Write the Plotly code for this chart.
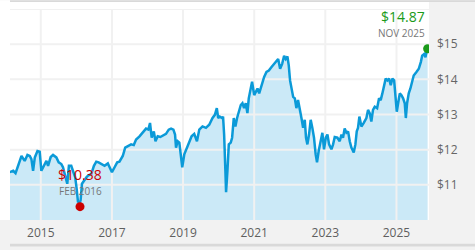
import plotly.graph_objects as go

dates = [
"2014-02-17","2014-03-24","2014-04-17","2014-05-14","2014-06-17","2014-07-20","2014-08-17","2014-09-10","2014-09-27","2014-10-14","2014-11-01","2014-11-28","2014-12-21",
"2015-01-07","2015-02-04","2015-02-28","2015-03-17","2015-04-13","2015-05-07","2015-06-10","2015-07-04","2015-07-31","2015-08-17","2015-09-10","2015-09-30","2015-10-17","2015-11-10","2015-11-27","2015-12-21",
"2016-01-04","2016-01-18","2016-02-04","2016-02-14","2016-02-28","2016-03-19","2016-04-12","2016-04-29","2016-06-03","2016-06-30","2016-07-24","2016-08-17","2016-09-13","2016-10-17","2016-11-20","2016-12-07",
"2017-01-01","2017-01-28","2017-02-24","2017-03-19","2017-04-22","2017-05-17","2017-06-13","2017-07-17","2017-08-13","2017-09-06","2017-10-11","2017-11-13","2017-12-17",
"2018-01-10","2018-01-27","2018-02-13","2018-03-07","2018-03-24","2018-04-16","2018-05-13","2018-06-07","2018-07-10","2018-08-07","2018-08-31","2018-09-24","2018-10-11","2018-10-21","2018-11-07","2018-11-24","2018-12-11","2018-12-24",
"2019-01-14","2019-02-10","2019-03-06","2019-03-30","2019-04-26","2019-05-24","2019-06-17","2019-07-20","2019-08-24","2019-09-27","2019-10-31","2019-11-24","2019-12-14","2019-12-28",
"2020-01-13","2020-02-06","2020-02-16","2020-02-27","2020-03-11","2020-03-18","2020-04-01","2020-04-15","2020-05-05","2020-05-19","2020-06-05","2020-06-22","2020-07-09","2020-07-26","2020-08-16","2020-09-02","2020-09-19","2020-10-06","2020-10-23","2020-11-06","2020-11-23","2020-12-10",
"2021-01-01","2021-01-18","2021-02-04","2021-02-21","2021-03-17","2021-04-13","2021-05-07","2021-05-31","2021-06-28","2021-07-25","2021-08-18","2021-09-04","2021-09-24","2021-10-15","2021-11-04","2021-11-21","2021-12-08","2021-12-22",
"2022-01-04","2022-01-19","2022-02-05","2022-02-22","2022-03-10","2022-03-27","2022-04-14","2022-05-01","2022-05-18","2022-06-04","2022-06-17","2022-07-01","2022-07-18","2022-08-04","2022-08-21","2022-09-07","2022-09-24","2022-10-08","2022-10-25","2022-11-14","2022-12-02","2022-12-19",
"2023-01-06","2023-01-23","2023-02-09","2023-03-05","2023-03-22","2023-04-08","2023-05-05","2023-05-29","2023-06-16","2023-07-02","2023-07-19","2023-08-06","2023-08-23","2023-09-09","2023-09-26","2023-10-20","2023-11-06","2023-11-20","2023-12-03","2023-12-17",
"2024-01-07","2024-01-31","2024-02-27","2024-03-15","2024-04-01","2024-04-18","2024-05-05","2024-05-23","2024-06-16","2024-07-06","2024-07-23","2024-08-09","2024-08-26","2024-09-12","2024-09-30","2024-10-17","2024-11-03","2024-11-20","2024-12-08","2024-12-21",
"2025-01-04","2025-01-18","2025-02-04","2025-02-21","2025-03-10","2025-03-27","2025-04-07","2025-04-20","2025-05-07","2025-05-24","2025-06-10","2025-06-27","2025-07-25","2025-08-18","2025-09-08","2025-09-22","2025-10-12","2025-10-26","2025-11-08","2025-11-17",
]

prices = [
11.36,11.40,11.33,11.54,11.82,11.68,11.85,11.82,11.73,11.40,11.78,11.96,11.94,
11.40,11.54,11.68,11.54,11.79,11.85,11.78,11.64,11.59,11.50,11.21,11.03,11.54,11.54,11.40,11.21,
10.90,10.52,10.48,10.56,11.03,11.12,11.21,11.26,11.31,11.54,11.66,11.64,11.59,11.54,11.61,11.50,
11.36,11.50,11.64,11.66,11.82,12.06,12.10,12.15,12.13,12.29,12.38,12.48,12.60,
12.57,12.76,12.34,12.52,12.24,12.38,12.36,12.41,12.45,12.57,12.60,12.57,12.43,12.06,12.24,12.20,11.78,11.50,
11.87,12.06,12.24,12.38,12.45,12.24,12.57,12.66,12.62,12.71,12.90,12.99,13.18,12.90,
12.94,12.90,12.94,12.43,11.40,10.79,11.40,12.15,12.20,12.34,12.90,12.66,12.90,13.04,13.27,13.32,13.18,13.32,13.04,13.46,13.74,13.93,
13.55,13.64,13.74,13.60,13.83,14.07,14.21,14.25,14.35,14.44,14.49,14.58,14.30,14.44,14.67,14.58,14.65,14.39,
13.97,13.74,13.50,13.46,13.18,13.41,13.08,12.90,12.62,12.85,12.34,12.15,12.43,12.85,12.62,12.34,11.87,11.64,11.96,12.29,12.48,12.01,
12.34,12.43,12.15,12.01,12.15,12.36,12.34,12.24,12.43,12.34,12.60,12.48,12.52,12.24,12.06,11.92,12.15,12.52,12.62,12.94,
12.66,12.76,12.90,13.13,13.04,12.80,13.13,13.22,13.18,13.46,13.41,13.60,13.79,14.02,13.97,14.02,13.83,14.02,13.97,13.50,
13.08,13.32,13.60,13.55,13.46,13.32,12.90,13.32,13.60,13.74,13.93,14.11,14.21,14.30,14.49,14.67,14.72,14.63,14.81,14.87,
]

low_date = "2016-02-08"
low_value = 10.38
low_label = "$10.38"
low_month = "FEB 2016"
last_label = "$14.87"
last_month = "NOV 2025"

x_tick_vals = ["2015-01-01", "2017-01-01", "2019-01-01", "2021-01-01", "2023-01-01", "2025-01-01"]
x_tick_text = ["2015", "2017", "2019", "2021", "2023", "2025"]
y_tick_vals = [11, 12, 13, 14, 15]
y_tick_text = ["$11", "$12", "$13", "$14", "$15"]
y_grid_vals = [11, 12, 13, 14, 15, 16]
x_range = ["2014-02-19", "2025-12-01"]
y_range = [10, 16]

W, H = 475, 250
ML, MR, MT, MB = 10, 46, 9, 27
PW, PH = W - ML - MR, H - MT - MB
def px_x(p):
    return (p - ML) / PW
def px_y(p):
    return (H - MB - p) / PH

LINE = "#0b9ad8"
FILL = "#cbe9f7"
GRID = "#f1f1f1"
FONT = "Open Sans"

# gridlines drawn as a trace so they sit above the fill but below the line
gx, gy = [], []
for v in y_grid_vals:
    gx += [x_range[0], x_range[1], None]
    gy += [v, v, None]
for d in x_tick_vals:
    gx += [d, d, None]
    gy += [y_range[0], y_range[1], None]

fig = go.Figure()
fig.add_trace(go.Scatter(x=dates, y=prices, mode="lines", line=dict(width=0, color=LINE),
                         fill="tozeroy", fillcolor=FILL, hoverinfo="skip", showlegend=False))
fig.add_trace(go.Scatter(x=gx, y=gy, mode="lines", line=dict(color=GRID, width=2),
                         hoverinfo="skip", showlegend=False, connectgaps=False))
fig.add_trace(go.Scatter(x=dates, y=prices, mode="lines", line=dict(width=2.5, color=LINE),
                         showlegend=False))
fig.add_trace(go.Scatter(x=[low_date], y=[low_value], mode="markers",
                         marker=dict(size=9, color="#cc0000"), showlegend=False))
fig.add_trace(go.Scatter(x=[dates[-1]], y=[prices[-1]], mode="markers",
                         marker=dict(size=9, color="#1a9a1a"), showlegend=False))

shapes = [
    dict(type="rect", xref="paper", yref="paper", x0=px_x(0), x1=px_x(ML + PW), y0=px_y(MT + PH), y1=px_y(0),
         fillcolor="white", line=dict(width=0), layer="below"),
    dict(type="rect", xref="paper", yref="paper", x0=px_x(ML), x1=px_x(W), y0=px_y(2), y1=px_y(0),
         fillcolor="#d9d9d9", line=dict(width=0), layer="above"),
    dict(type="rect", xref="paper", yref="paper", x0=px_x(ML), x1=px_x(W), y0=px_y(H), y1=px_y(H - 3),
         fillcolor="#d9d9d9", line=dict(width=0), layer="above"),
]

annotations = [
    dict(x=low_date, y=low_value, xref="x", yref="y", text=low_label, showarrow=False,
         font=dict(family=FONT, size=14, color="#cc0000"), xanchor="center", yanchor="middle", yshift=32),
    dict(x=low_date, y=low_value, xref="x", yref="y", text=low_month, showarrow=False,
         font=dict(family=FONT, size=10, color="#777777"), xanchor="center", yanchor="middle", yshift=15.5),
    dict(x=dates[-1], y=prices[-1], xref="x", yref="y", text=last_label, showarrow=False,
         font=dict(family=FONT, size=14, color="#1a9a1a"), xanchor="right", yanchor="middle", yshift=32, xshift=-1),
    dict(x=dates[-1], y=prices[-1], xref="x", yref="y", text=last_month, showarrow=False,
         font=dict(family=FONT, size=10, color="#777777"), xanchor="right", yanchor="middle", yshift=15.5, xshift=-1),
]

fig.update_layout(
    width=W, height=H,
    margin=dict(l=ML, r=MR, t=MT, b=MB, pad=0),
    paper_bgcolor="#f2f2f2", plot_bgcolor="white",
    font=dict(family=FONT, size=12, color="#666666"),
    shapes=shapes, annotations=annotations,
    xaxis=dict(type="date", range=x_range, tickvals=x_tick_vals, ticktext=x_tick_text,
               showgrid=False, zeroline=False, showline=False, ticks="", ticklabelstandoff=4,
               tickfont=dict(family=FONT, size=12, color="#5f5f5f"), fixedrange=True),
    yaxis=dict(range=y_range, side="right", tickvals=y_tick_vals, ticktext=y_tick_text,
               showgrid=False, zeroline=False, showline=False, ticks="", ticklabelstandoff=7,
               tickfont=dict(family=FONT, size=12, color="#666666"), fixedrange=True),
    showlegend=False,
)

fig.write_html("out.html")
